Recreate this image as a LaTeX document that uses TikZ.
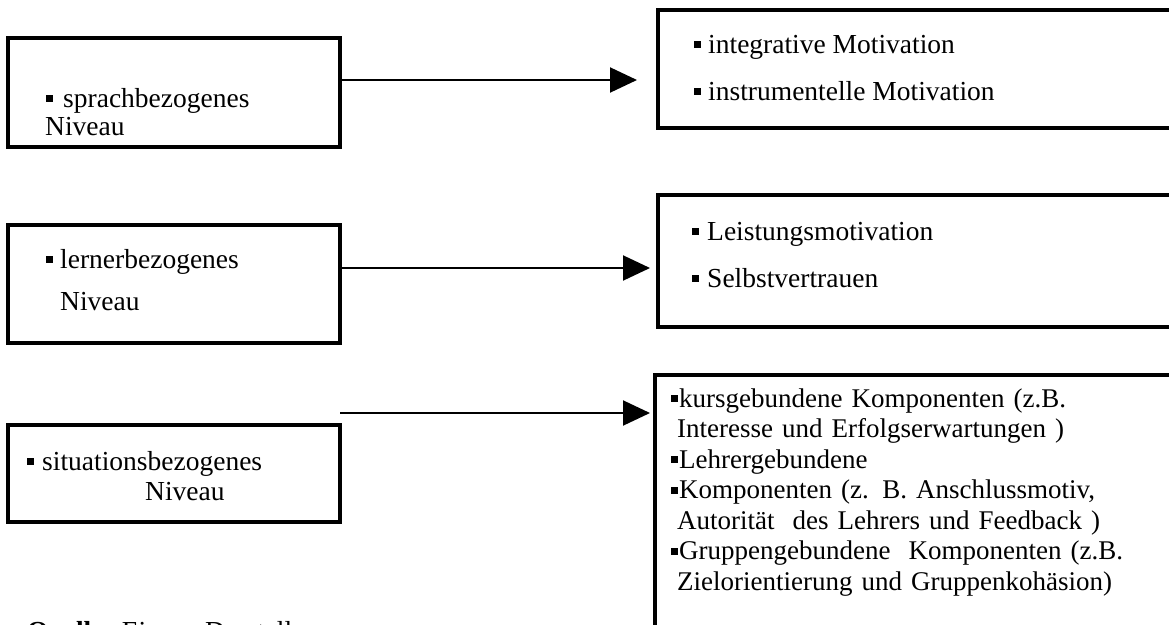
\documentclass[tikz,border=0pt]{standalone}
\usepackage{fontspec}
\setmainfont{Liberation Serif}
\usetikzlibrary{arrows.meta}
\newcommand{\bul}{\rule[5pt]{7pt}{7pt}}
\begin{document}
\begin{tikzpicture}[x=1pt,y=-1pt,
  kasten/.style={draw,line width=3.5pt,inner sep=0pt,outer sep=0pt,anchor=north west},
  txt/.style={inner sep=0pt,anchor=base west,font=\fontsize{27.5}{30.5}\selectfont},
  pfeil/.style={line width=2pt,-{Triangle[length=27pt,width=25pt]}}]
\useasboundingbox (0,0) rectangle (1169,624);
\clip (0,0) rectangle (1169,624);
% linke Kaesten
\node[kasten,minimum width=332pt,minimum height=109pt] (sprach) at (8,38) {};
\node[kasten,minimum width=332pt,minimum height=118pt] (lerner) at (8,225) {};
\node[kasten,minimum width=332pt,minimum height=97pt] (situ) at (8,425) {};
\node[txt] (sprach1) at (46,107) {\bul\hspace{10pt}sprachbezogenes};
\node[txt] (sprach2) at (45,135) {Niveau};
\node[txt] (lerner1) at (46,268) {\bul\hspace{7pt}lernerbezogenes};
\node[txt] (lerner2) at (60,310) {Niveau};
\node[txt] (situ1) at (27,470) {\bul\hspace{8pt}situationsbezogenes};
\node[txt] (situ2) at (145,500) {Niveau};
% rechte Kaesten
\node[kasten,minimum width=522pt,minimum height=118pt] (integ) at (658,10) {};
\node[kasten,minimum width=522pt,minimum height=132pt] (leist) at (658,195) {};
\node[kasten,minimum width=525pt,minimum height=300pt] (komp) at (655,375) {};
\node[txt] (integ1) at (694,53) {\bul\hspace{7pt}integrative Motivation};
\node[txt] (integ2) at (694,100) {\bul\hspace{7pt}instrumentelle Motivation};
\node[txt] (leist1) at (692,240) {\bul\hspace{8pt}Leistungsmotivation};
\node[txt] (leist2) at (692,287) {\bul\hspace{8pt}Selbstvertrauen};
\node[txt,font=\fontsize{27}{30.5}\selectfont,text width=480pt] (komp1) at (671,407) {%
\bul\hspace{1pt}\makebox[436pt][s]{kursgebundene Komponenten (z.B.}\\
\hspace*{6pt}Interesse und Erfolgserwartungen )\\
\bul\hspace{1pt}Lehrergebundene\\
\bul\hspace{1pt}\makebox[436pt][s]{Komponenten (z. B. Anschlussmotiv,}\\
\hspace*{6pt}Autorität\ \ des Lehrers und Feedback )\\
\bul\hspace{1pt}\makebox[436pt][s]{Gruppengebundene\ \ Komponenten (z.B.}\\
\hspace*{6pt}Zielorientierung und Gruppenkohäsion)};
% Pfeile
\draw[pfeil,shorten >=21pt] (sprach.east |- 0,80) -- (integ.west |- 0,80);
\draw[pfeil,shorten >=8pt] (lerner.east |- 0,268) -- (leist.west |- 0,268);
\draw[pfeil,shorten >=5pt] (situ.east |- 0,413) -- (komp.west |- 0,413);
\node[txt] (quelle) at (27,640) {\textbf{Quelle:} Eigene Darstellung};
\end{tikzpicture}
\end{document}
